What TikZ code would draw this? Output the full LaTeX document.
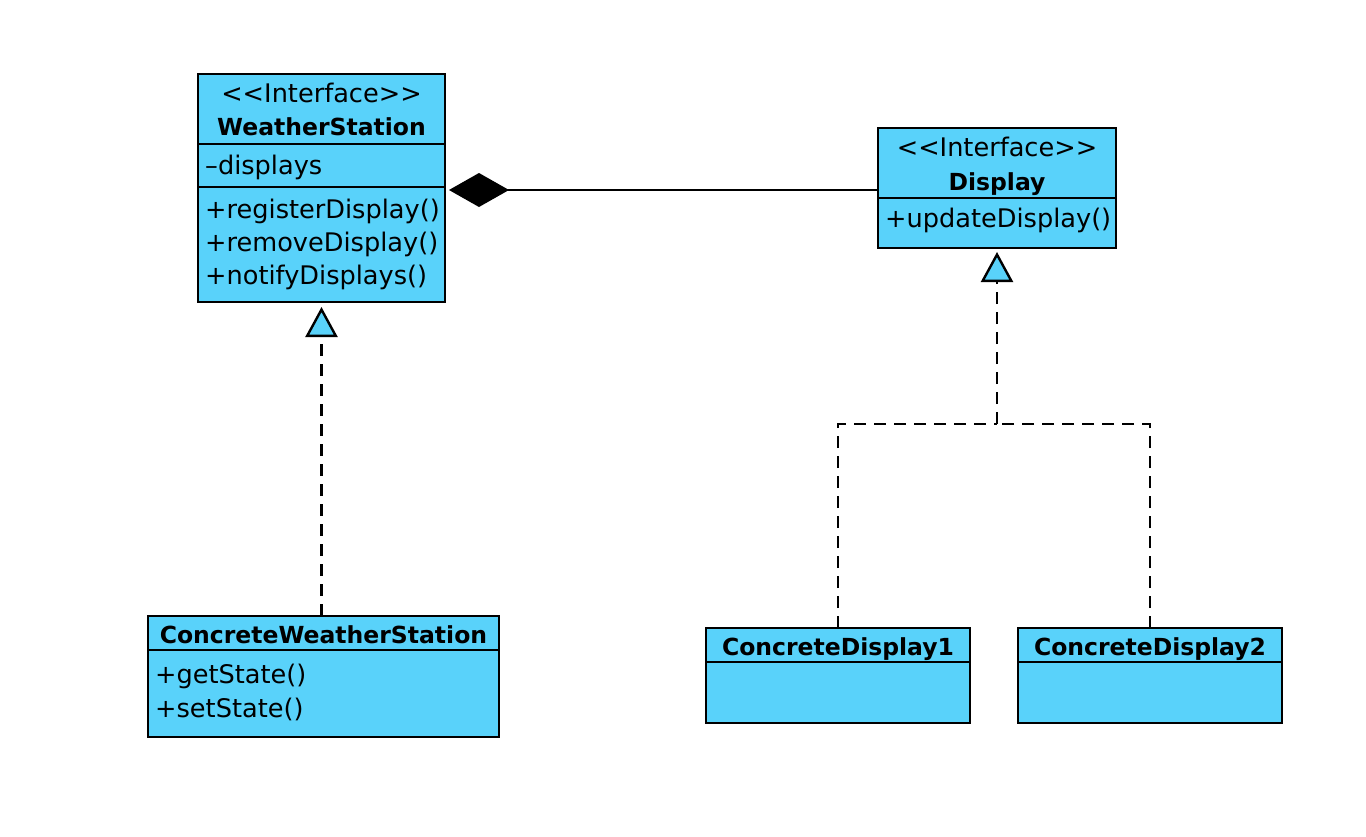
\documentclass[tikz,border=0pt]{standalone}
\usepackage{fontspec}
\setmainfont{DejaVu Sans}
\usetikzlibrary{arrows.meta}
\definecolor{umlblue}{RGB}{89,210,250}
\begin{document}
\begin{tikzpicture}[x=1pt,y=-1pt,
  umlbox/.style={draw, line width=2.5pt, fill=umlblue, inner sep=0pt, outer sep=0pt},
  sepline/.style={line width=2.5pt},
  txt/.style={inner sep=0pt, font=\fontsize{25.6}{30}\selectfont},
  ttl/.style={inner sep=0pt, font=\fontsize{23.5}{28}\selectfont\bfseries},
  realize/.style={line width=2.4pt, dash pattern=on 12pt off 8pt},
  realtip/.style={-{Triangle[length=30pt,width=32pt,fill=umlblue]}},
  compo/.style={line width=2.4pt, {Diamond[length=60pt,width=34pt,fill=black]}-}
]
\useasboundingbox[fill=white] (0,0) rectangle (1366,836);

% WeatherStation interface
\node[umlbox, minimum width=247pt, minimum height=228pt] (ws) at (321.5,188) {};
\draw[sepline] (ws.west |- 0,144) -- (ws.east |- 0,144);
\draw[sepline] (ws.west |- 0,187) -- (ws.east |- 0,187);
\node[txt, anchor=base] (wsst) at (321.5,102) {<{}<Interface>{}>};
\node[ttl, anchor=base] (wsname) at (321.5,135) {WeatherStation};
\node[txt, anchor=base west] (wsa1) at (205,174) {–displays};
\node[txt, anchor=base west] (wsm1) at (205,218) {+registerDisplay()};
\node[txt, anchor=base west] (wsm2) at (205,251) {+removeDisplay()};
\node[txt, anchor=base west] (wsm3) at (205,284) {+notifyDisplays()};

% Display interface
\node[umlbox, minimum width=238pt, minimum height=120pt] (disp) at (997,188) {};
\draw[sepline] (disp.west |- 0,198) -- (disp.east |- 0,198);
\node[txt, anchor=base] (dst) at (997,156) {<{}<Interface>{}>};
\node[ttl, anchor=base] (dname) at (997,190) {Display};
\node[txt, anchor=base west] (dm1) at (885,227) {+updateDisplay()};

% ConcreteWeatherStation
\node[umlbox, minimum width=351pt, minimum height=121pt] (cws) at (323.5,676.5) {};
\draw[sepline] (cws.west |- 0,650) -- (cws.east |- 0,650);
\node[ttl, anchor=base] (cwsname) at (323.5,643) {ConcreteWeatherStation};
\node[txt, anchor=base west] (cwsm1) at (155,683) {+getState()};
\node[txt, anchor=base west] (cwsm2) at (155,717) {+setState()};

% ConcreteDisplay1
\node[umlbox, minimum width=264pt, minimum height=95pt] (cd1) at (838,675.5) {};
\draw[sepline] (cd1.west |- 0,662) -- (cd1.east |- 0,662);
\node[ttl, anchor=base] (cd1name) at (838,655) {ConcreteDisplay1};

% ConcreteDisplay2
\node[umlbox, minimum width=264pt, minimum height=95pt] (cd2) at (1150,675.5) {};
\draw[sepline] (cd2.west |- 0,662) -- (cd2.east |- 0,662);
\node[ttl, anchor=base] (cd2name) at (1150,655) {ConcreteDisplay2};

% composition
\draw[compo, shorten <=4pt] ([yshift=-2pt]ws.east) -- ([yshift=-2pt]disp.west);

% realizations
\draw[realize, realtip, shorten >=5pt] (ws.south |- cws.north) -- (ws.south);
\coordinate (j) at (997,424);
\draw[realize] (cd1.north) |- (j);
\draw[realize] (cd2.north) |- (j);
\draw[realize, realtip, shorten >=4pt] (j) -- (disp.south);
\end{tikzpicture}
\end{document}
